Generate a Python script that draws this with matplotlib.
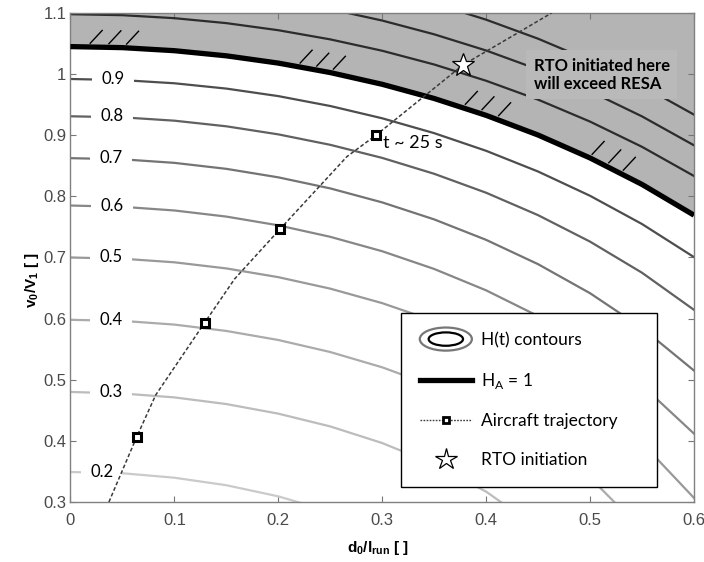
import matplotlib

matplotlib.use("Agg")
import matplotlib.pyplot as plt
import numpy as np
from matplotlib.lines import Line2D
from matplotlib.patches import Ellipse, Patch
from matplotlib.legend_handler import HandlerBase

plt.rcParams["mathtext.fontset"] = "custom"
plt.rcParams["mathtext.rm"] = "Liberation Sans"
plt.rcParams["mathtext.bf"] = "Liberation Sans:bold"

# ---------- contour curves v0/V1 read at d0/l_run = D ----------
nan = np.nan
D = [0, 0.05, 0.1, 0.15, 0.2, 0.25, 0.3, 0.35, 0.4, 0.45, 0.5, 0.55, 0.6]
H02 = [0.349, 0.347, 0.3397, 0.3274, 0.3092, 0.2843, nan, nan, nan, nan, nan, nan, nan]
H03 = [0.48, 0.4775, 0.4711, 0.4602, 0.4445, 0.4236, 0.3964, 0.3617, 0.3169, 0.2569, nan, nan, nan]
H04 = [0.598, 0.5963, 0.5902, 0.5798, 0.565, 0.5453, 0.5203, 0.4891, 0.4503, 0.402, 0.3399, 0.2542, nan]
H05 = [0.70, 0.698, 0.6921, 0.6821, 0.6678, 0.649, 0.6253, 0.596, 0.5604, 0.517, 0.4637, 0.3965, 0.3066]
H06 = [0.785, 0.7829, 0.7769, 0.7669, 0.7526, 0.7338, 0.7102, 0.6812, 0.6462, 0.6041, 0.5532, 0.4908, 0.4118]
H07 = [0.8625, 0.8606, 0.8548, 0.845, 0.8311, 0.813, 0.7901, 0.7623, 0.7288, 0.689, 0.6415, 0.5846, 0.515]
H08 = [0.931, 0.9293, 0.9238, 0.9146, 0.9014, 0.8843, 0.8629, 0.8369, 0.8059, 0.7692, 0.7259, 0.675, 0.6143]
H09 = [0.992, 0.9902, 0.985, 0.9763, 0.964, 0.9478, 0.9277, 0.9034, 0.8745, 0.8406, 0.8009, 0.7547, 0.7006]
HA1 = [1.045, 1.0433, 1.0383, 1.0299, 1.018, 1.0025, 0.9833, 0.9601, 0.9325, 0.9003, 0.8628, 0.8195, 0.7692]
H11 = [1.098, 1.0964, 1.0915, 1.0834, 1.0718, 1.0568, 1.0382, 1.0157, 0.9891, 0.9582, 0.9223, 0.881, 0.8333]
H12 = [nan, nan, nan, nan, 1.1213, 1.1063, 1.0876, 1.0651, 1.0386, 1.0076, 0.9719, 0.9308, 0.8835]
H13 = [nan, nan, nan, nan, nan, nan, nan, 1.1157, 1.089, 1.0579, 1.022, 0.9809, 0.9337]

white_levels = [H02, H03, H04, H05, H06, H07, H08, H09]
white_names = ["0.2", "0.3", "0.4", "0.5", "0.6", "0.7", "0.8", "0.9"]
label_d = [0.030, 0.039, 0.039, 0.039, 0.040, 0.039, 0.040, 0.041]
gray_levels = [H11, H12, H13]

# ---------- aircraft trajectory ----------
traj_d = [0.037, 0.0636, 0.082, 0.129, 0.158, 0.2014, 0.266, 0.2944, 0.3777, 0.4355, 0.463]
traj_v = [0.30, 0.406, 0.475, 0.593, 0.665, 0.746, 0.865, 0.9006, 1.015, 1.0725, 1.10]
marker_idx = [1, 3, 5, 7]
rto_d, rto_v = 0.3777, 1.015

hatch_d = [0.017, 0.035, 0.052, 0.219, 0.235, 0.251, 0.378, 0.394, 0.41, 0.50, 0.516, 0.53]

fig = plt.figure(figsize=(7.04, 5.62), dpi=100)
ax = fig.add_axes([0.1001, 0.1068, 0.8857, 0.8701])

ax.fill_between(D, HA1, 1.1, color="#b4b4b4", lw=0, zorder=1)

colors = ["#cacaca", "#bcbcbc", "#ababab", "#999999", "#878787", "#747474", "#616161", "#4e4e4e"]
for v, c in zip(white_levels, colors):
    ax.plot(D, v, color=c, lw=1.6, zorder=2)
for v in gray_levels:
    ax.plot(D, v, color="#2c2c2c", lw=1.6, zorder=2)

ax.plot(D, HA1, color="black", lw=3.8, zorder=3, solid_capstyle="butt")

hb = np.interp(hatch_d, D, HA1)
for d, v in zip(hatch_d, hb):
    ax.plot([d + 0.002, d + 0.0135], [v + 0.006, v + 0.027], color="black", lw=1.0, zorder=3)

for v, name, ld in zip(white_levels, white_names, label_d):
    ax.text(ld, v[0], name, ha="center", va="center", fontsize=12, family="Lato",
            bbox=dict(boxstyle="square,pad=0.55", fc="white", ec="none"), zorder=4)

ax.text(0.4457, 0.999, "RTO initiated here\nwill exceed RESA", ha="left", va="center",
        fontsize=12, family="Lato", fontweight="bold", linespacing=1.15,
        bbox=dict(boxstyle="square,pad=0.45", fc="#b9b9b9", ec="none"), zorder=4)
ax.text(0.3005, 0.8876, "t ~ 25 s", ha="left", va="center", fontsize=13, family="Lato", zorder=4)

ax.plot(traj_d, traj_v, color="#3a3a3a", lw=1.1, ls=(0, (2.5, 1.5)), zorder=5)
ax.plot([traj_d[i] for i in marker_idx], [traj_v[i] for i in marker_idx], ls="none",
        marker="s", ms=6, mfc="white", mec="black", mew=2.2, zorder=6)
ax.plot([rto_d], [rto_v], ls="none", marker="*", ms=17, mfc="white", mec="black", mew=0.9, zorder=6)

ax.set_xlim(0, 0.6)
ax.set_ylim(0.3, 1.1)
ax.set_xticks([0, 0.1, 0.2, 0.3, 0.4, 0.5, 0.6])
ax.set_xticklabels(["0", "0.1", "0.2", "0.3", "0.4", "0.5", "0.6"])
ax.set_yticks([0.3, 0.4, 0.5, 0.6, 0.7, 0.8, 0.9, 1.0, 1.1])
ax.set_yticklabels(["0.3", "0.4", "0.5", "0.6", "0.7", "0.8", "0.9", "1", "1.1"])
ax.tick_params(direction="in", length=4, width=0.8, color="#777777", top=True, right=True,
               labelsize=12, labelcolor="#4a4a4a")
ax.tick_params(axis="x", pad=8)
ax.tick_params(axis="y", pad=3)
for lab in ax.get_xticklabels() + ax.get_yticklabels():
    lab.set_family("Liberation Sans")
for s in ax.spines.values():
    s.set_color("#808080")
    s.set_linewidth(1.0)

ax.set_ylabel(r"v$_\mathbf{0}$/V$_\mathbf{1}$ [ ]", fontsize=11, fontweight="bold", family="Liberation Sans")
ax.set_xlabel(r"d$_\mathbf{0}$/l$_\mathbf{run}$ [ ]", fontsize=11, fontweight="bold", family="Liberation Sans")
ax.yaxis.set_label_coords(-0.047, 0.454)
ax.xaxis.set_label_coords(0.493, -0.076)


class HandlerEllipses(HandlerBase):
    def create_artists(self, legend, orig_handle, xdescent, ydescent, width, height, fontsize, trans):
        cx = width / 2 - xdescent
        cy = height / 2 - ydescent
        outer = Ellipse((cx, cy), width, height * 1.9, fill=False, ec="#777777", lw=1.6, transform=trans)
        inner = Ellipse((cx, cy), width * 0.66, height * 1.1, fill=False, ec="black", lw=1.6, transform=trans)
        return [outer, inner]


ell = Patch()
h_line = Line2D([], [], color="black", lw=3.8)
h_traj = Line2D([], [], color="#3a3a3a", lw=1.0, ls=(0, (1.2, 1.0)), marker="s", ms=5,
                mfc="white", mec="black", mew=2)
h_star = Line2D([], [], ls="none", marker="*", ms=16, mfc="white", mec="black", mew=0.9)
leg = ax.legend([ell, h_line, h_traj, h_star],
                ["H(t) contours", r"H$_\mathregular{A}$ = 1", "Aircraft trajectory", "RTO initiation"],
                handler_map={ell: HandlerEllipses()}, loc="upper left",
                bbox_to_anchor=(0.5296, 0.0266, 0.4111, 0.36), mode="expand", borderaxespad=0,
                prop={"family": "Lato", "size": 12.5}, numpoints=1, handlelength=3.0,
                handletextpad=0.5, labelspacing=1.3, borderpad=1.1, fancybox=False,
                framealpha=1, edgecolor="black")
leg.get_frame().set_linewidth(1.0)
leg.set_zorder(7)

fig.savefig("out.png", dpi=100)
